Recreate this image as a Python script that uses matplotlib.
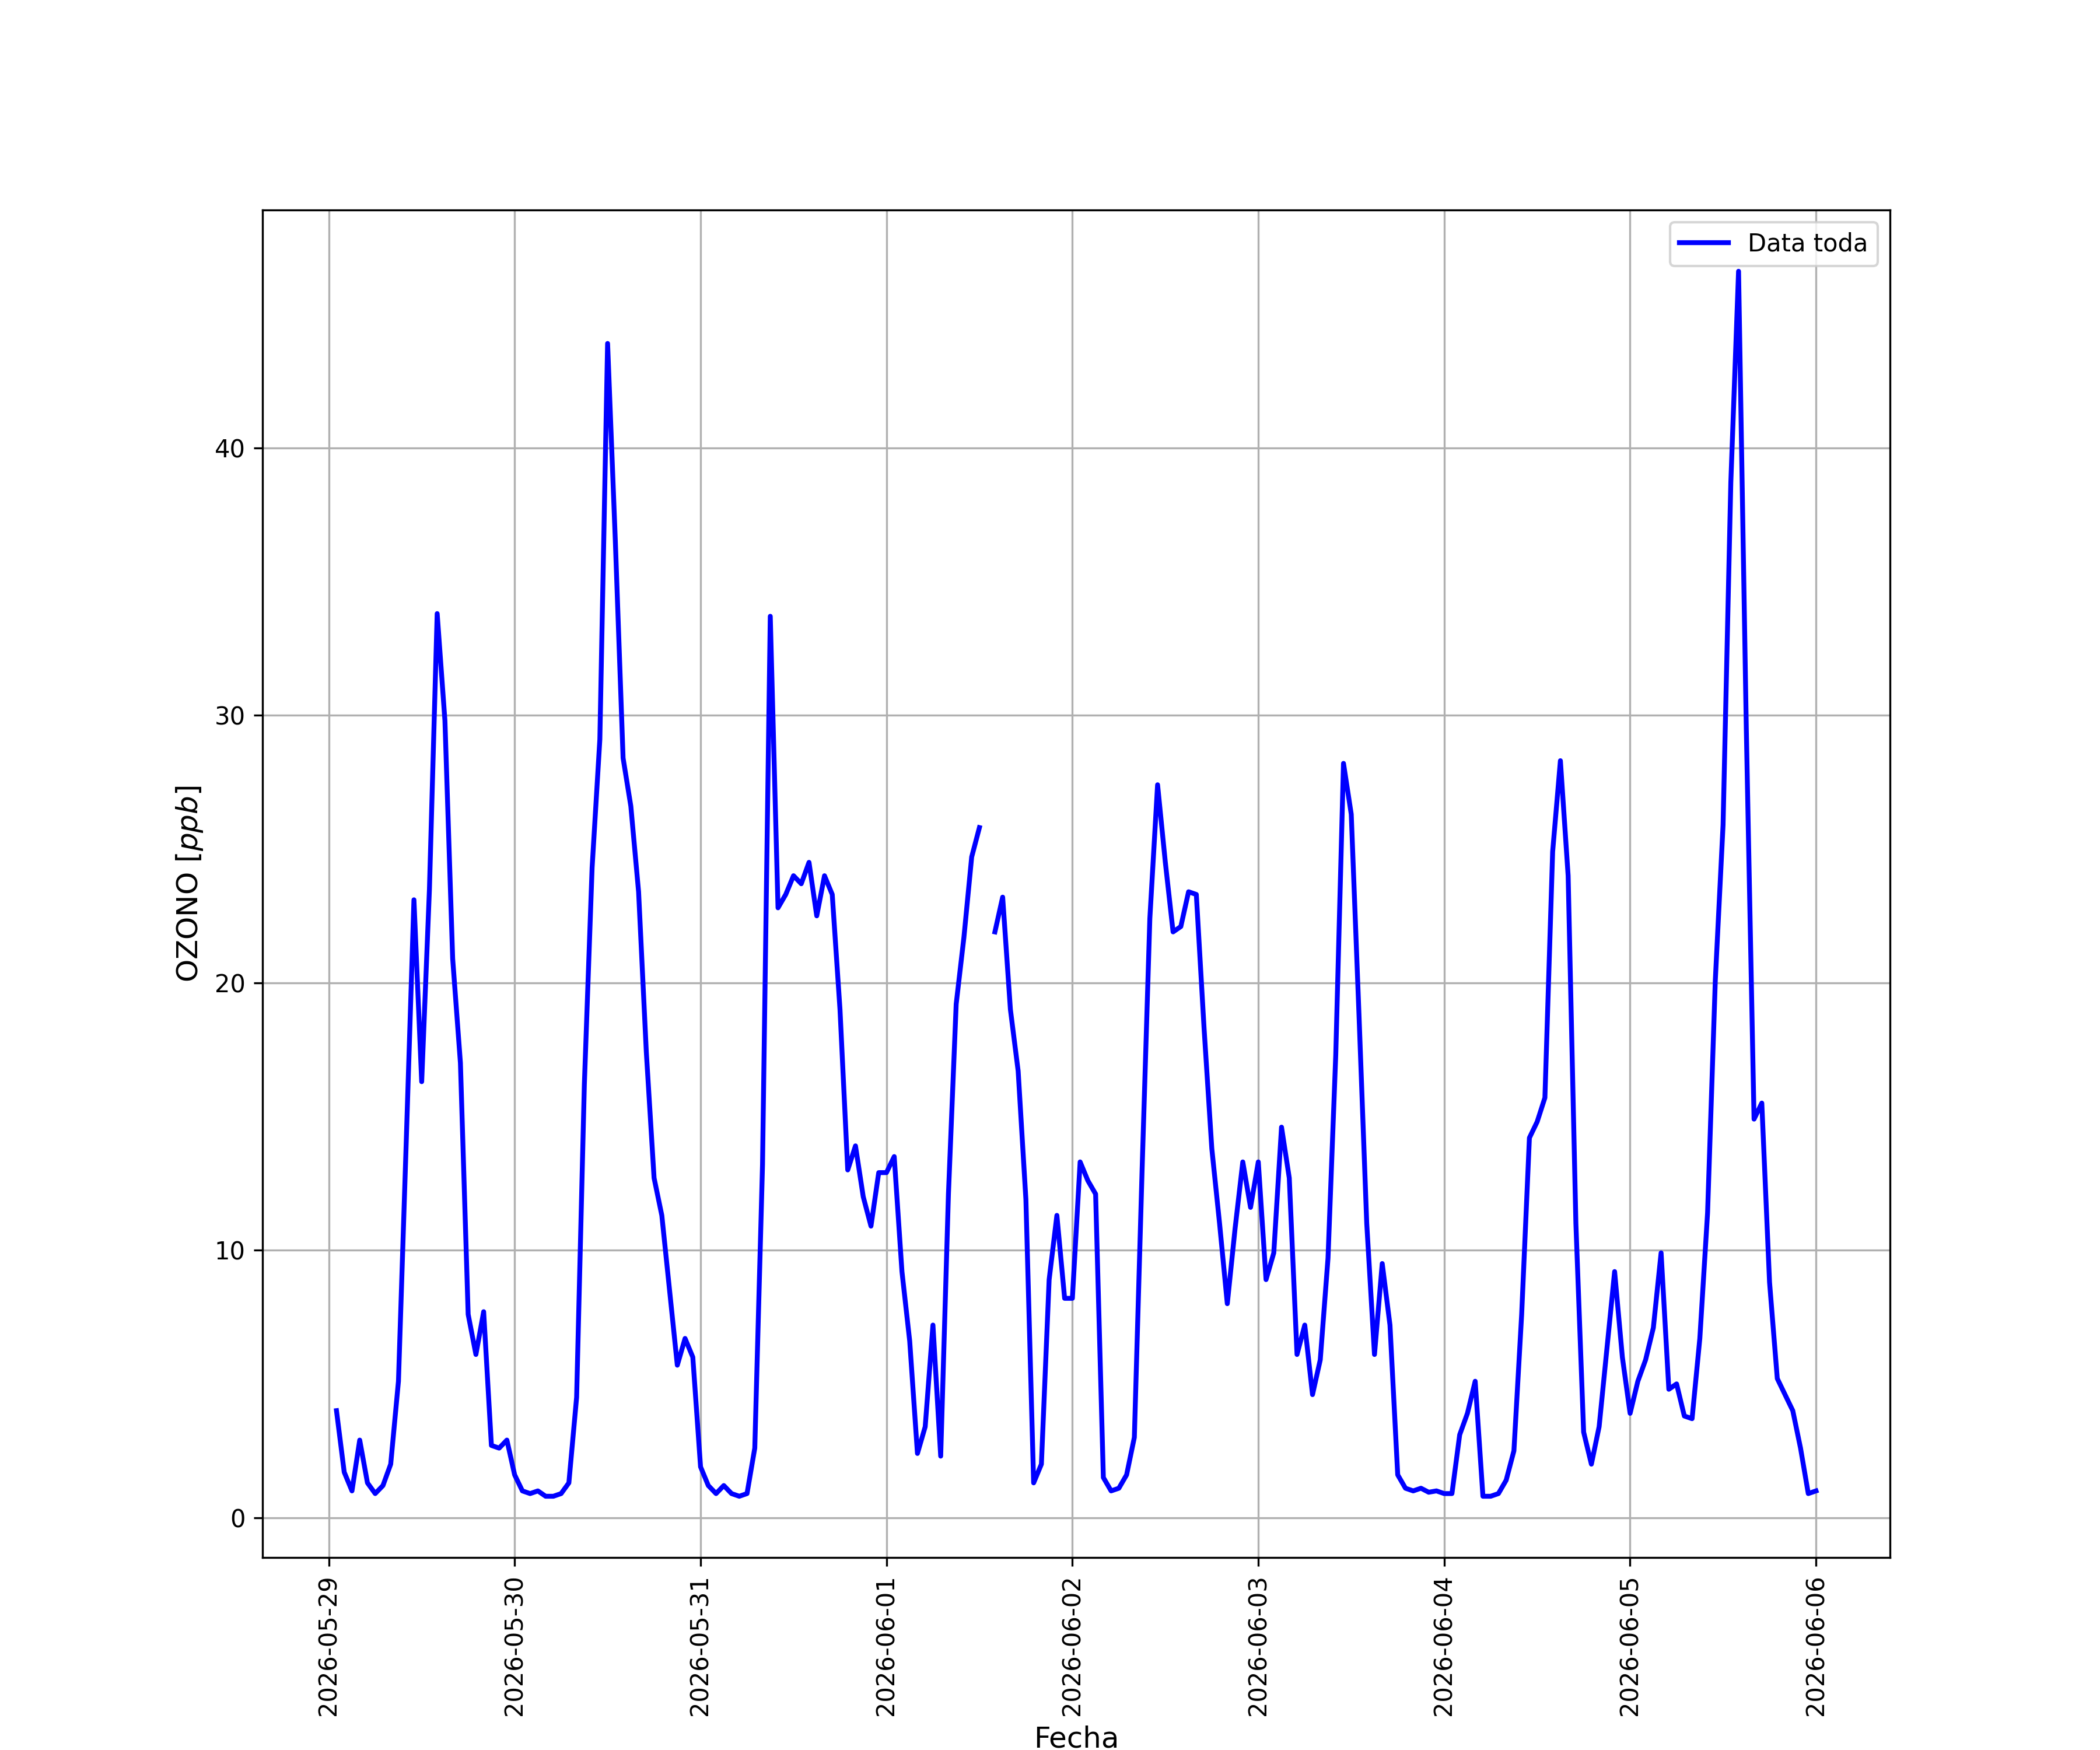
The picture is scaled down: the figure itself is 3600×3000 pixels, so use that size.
import numpy as np
import pandas as pd
import matplotlib
matplotlib.use("Agg")
import matplotlib.pyplot as plt
import matplotlib.dates as mdates

start = "2026-05-29 01:00"
day_0529 = [4.0, 1.7, 1.0, 2.9, 1.3, 0.9, 1.2, 2.0, 5.1, 14.0, 23.1, 16.3, 23.5, 33.8,
            29.8, 20.9, 17.0, 7.6, 6.1, 7.7, 2.7, 2.6, 2.9]
day_0530 = [1.6, 1.0, 0.9, 1.0, 0.8, 0.8, 0.9, 1.3, 4.5, 16.2, 24.3, 29.1, 43.9, 36.5,
            28.4, 26.6, 23.4, 17.4, 12.7, 11.3, 8.5, 5.7, 6.7, 6.0]
day_0531 = [1.9, 1.2, 0.9, 1.2, 0.9, 0.8, 0.9, 2.6, 13.2, 33.7, 22.8, 23.3, 24.0, 23.7,
            24.5, 22.5, 24.0, 23.3, 19.0, 13.0, 13.9, 12.0, 10.9, 12.9]
day_0601 = [12.9, 13.5, 9.2, 6.6, 2.4, 3.4, 7.2, 2.3, 12.1, 19.2, 21.7, 24.7, 25.8, np.nan,
            21.9, 23.2, 19.0, 16.7, 11.9, 1.3, 2.0, 8.9, 11.3, 8.2]
day_0602 = [8.2, 13.3, 12.6, 12.1, 1.5, 1.0, 1.1, 1.6, 3.0, 13.0, 22.4, 27.4, 24.5, 21.9,
            22.1, 23.4, 23.3, 18.3, 13.8, 11.0, 8.0, 10.8, 13.3, 11.6]
day_0603 = [13.3, 8.9, 9.9, 14.6, 12.7, 6.1, 7.2, 4.6, 5.9, 9.7, 17.3, 28.2, 26.3, 18.8,
            11.0, 6.1, 9.5, 7.2, 1.6, 1.1, 1.0, 1.1, 0.95, 1.0]
day_0604 = [0.9, 0.9, 3.1, 3.9, 5.1, 0.8, 0.8, 0.9, 1.4, 2.5, 7.6, 14.2, 14.8, 15.7,
            24.9, 28.3, 24.0, 11.0, 3.2, 2.0, 3.4, 6.3, 9.2, 6.0]
day_0605 = [3.9, 5.1, 5.9, 7.1, 9.9, 4.8, 5.0, 3.8, 3.7, 6.7, 11.4, 20.1, 25.9, 38.7,
            46.6, 29.5, 14.9, 15.5, 8.8, 5.2, 4.6, 4.0, 2.6, 0.9]
day_0606 = [1.0]

ozono = (day_0529 + day_0530 + day_0531 + day_0601 + day_0602 + day_0603
         + day_0604 + day_0605 + day_0606)
fechas = pd.date_range(start=start, periods=len(ozono), freq="h")

fig, ax = plt.subplots(figsize=(12, 10), dpi=300)
ax.plot(fechas, ozono, color="blue", linewidth=2, label="Data toda")
ax.xaxis.set_major_locator(mdates.DayLocator())
ax.xaxis.set_major_formatter(mdates.DateFormatter("%Y-%m-%d"))
plt.setp(ax.get_xticklabels(), rotation=90)
ax.set_xlabel("Fecha", fontsize=12)
ax.set_ylabel("OZONO [$ppb$]", fontsize=12)
ax.grid(True)
ax.legend(loc="upper right")
fig.savefig("out.png", dpi=300)
